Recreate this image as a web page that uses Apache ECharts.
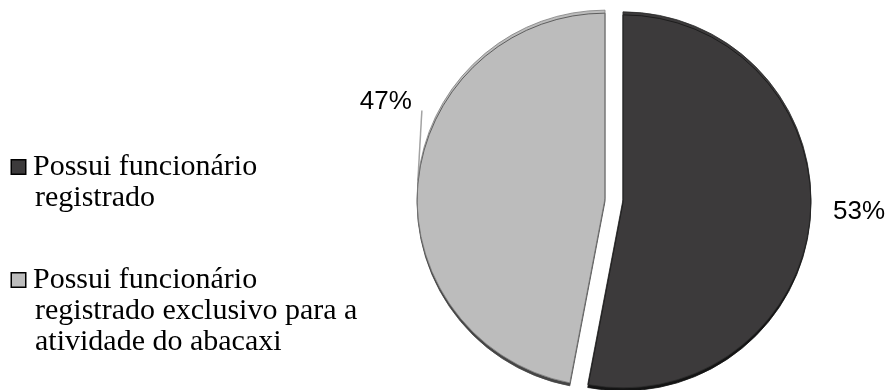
<!DOCTYPE html>
<html>
<head>
<meta charset="utf-8">
<script src="https://cdn.jsdelivr.net/npm/echarts@6/dist/echarts.min.js"></script>
<style>
  html, body { margin: 0; padding: 0; background: #ffffff; }
  #chart { width: 891px; height: 390px; }
</style>
</head>
<body>
<div id="chart"></div>
<script>
// Share of pineapple farms by type of registered employee
const categories = [
  'Possui funcionário registrado',
  'Possui funcionário registrado exclusivo para a atividade do abacaxi'
];
// legend text, wrapped line by line
const legendLines = [
  ['Possui funcionário', 'registrado'],
  ['Possui funcionário', 'registrado exclusivo para a', 'atividade do abacaxi']
];
const values = [53, 47];
const colors = ['#3c3a3b', '#bcbcbc'];
const edgeColors = ['#2a2a2a', '#7f7f7f'];
const depthColors = ['#141414', '#454545'];

const chart = echarts.init(document.getElementById('chart'), null, { renderer: 'canvas' });

const rich = {
  t: { fontFamily: '"Liberation Serif", "Times New Roman", serif', fontSize: 30, lineHeight: 31, color: '#000' },
  g: { width: 8 },
  ind: { width: 23 }
};
colors.forEach((c, i) => {
  rich['m' + i] = { width: 13, height: 13, backgroundColor: c, borderColor: '#000', borderWidth: 1.5 };
});

chart.setOption({
  animation: false,
  legend: {
    orient: 'vertical',
    left: 2,
    top: 147,
    height: 380,
    itemGap: 52,
    itemWidth: 0,
    itemHeight: 31,
    icon: 'none',
    selectedMode: false,
    data: categories,
    formatter: name => {
      const i = categories.indexOf(name);
      return legendLines[i]
        .map((line, k) => (k === 0 ? `{m${i}|}{g|}` : '{ind|}') + `{t|${line}}`)
        .join('\n');
    },
    textStyle: { rich: rich }
  },
  series: [{
    type: 'pie',
    center: [614, 199],
    radius: 188,
    startAngle: 90,
    clockwise: true,
    selectedMode: 'multiple',
    selectedOffset: 9,
    emphasis: { disabled: true },
    label: {
      show: true,
      position: 'outside',
      formatter: '{d}%',
      fontFamily: '"Liberation Sans", Arial, sans-serif',
      fontSize: 26,
      color: '#000'
    },
    labelLine: { show: true, length: 8, length2: 6, lineStyle: { color: '#a3a3a3', width: 1.5 } },
    // the small slice's label sits above its edge, tied to it by a vertical leader
    labelLayout: params => {
      if (params.dataIndex === 0) {
        return { dx: 4, dy: -6 };
      }
      const p0 = params.labelLinePoints[0];
      return {
        dx: 13,
        dy: -78,
        labelLinePoints: [p0, [p0[0] + 4, p0[1] - 70]]
      };
    },
    data: categories.map((name, i) => ({
      name: name,
      value: values[i],
      selected: true,
      itemStyle: {
        color: colors[i],
        borderColor: edgeColors[i],
        borderWidth: 0.8,
        shadowColor: depthColors[i],
        shadowOffsetY: 3,
        shadowBlur: 0
      },
      labelLine: { show: i === 1 }
    }))
  }]
});
</script>
</body>
</html>
